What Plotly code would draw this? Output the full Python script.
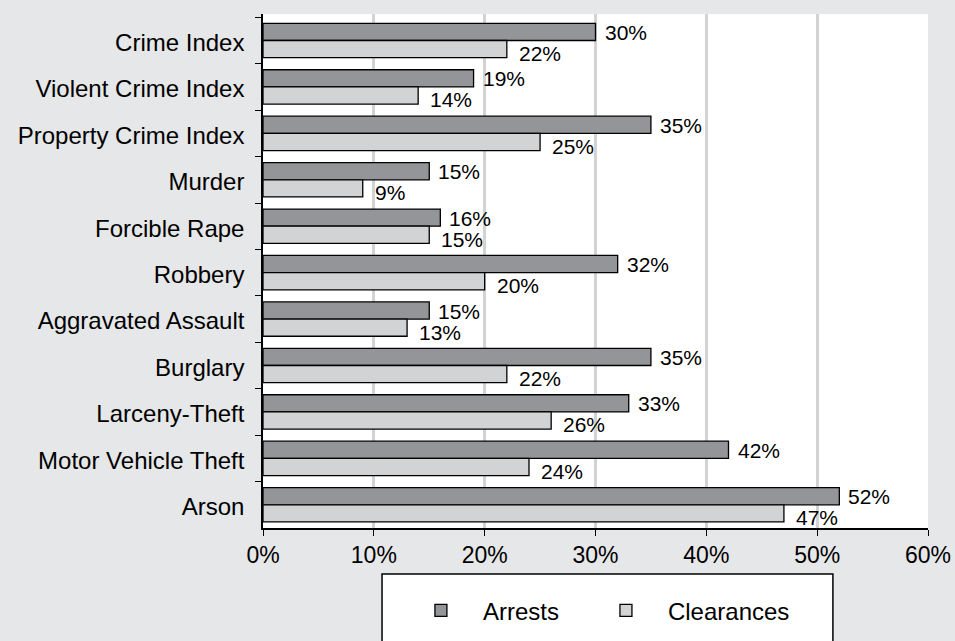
import plotly.graph_objects as go

categories = [
    "Crime Index", "Violent Crime Index", "Property Crime Index", "Murder",
    "Forcible Rape", "Robbery", "Aggravated Assault", "Burglary",
    "Larceny-Theft", "Motor Vehicle Theft", "Arson",
]
arrests = [30, 19, 35, 15, 16, 32, 15, 35, 33, 42, 52]
clearances = [22, 14, 25, 9, 15, 20, 13, 22, 26, 24, 47]
x_ticks = [0, 10, 20, 30, 40, 50, 60]

FONT = "Liberation Sans, Arial, Helvetica, sans-serif"
BG = "#e6e7e8"
NB = "\u00a0"

fig = go.Figure()
fig.add_trace(go.Bar(
    y=categories, x=arrests, name="Arrests" + NB * 3, orientation="h",
    marker=dict(color="#939598", line=dict(color="black", width=1.3)),
))
fig.add_trace(go.Bar(
    y=categories, x=clearances, name="Clearances", orientation="h",
    marker=dict(color="#d1d3d4", line=dict(color="black", width=1.3)),
))

# value labels just past the bar ends
for cat, a, c in zip(categories, arrests, clearances):
    fig.add_annotation(x=a, y=cat, text=f"{a}%", showarrow=False,
                       xanchor="left", xshift=7, yshift=8,
                       font=dict(size=21, color="black", family=FONT))
    fig.add_annotation(x=c, y=cat, text=f"{c}%", showarrow=False,
                       xanchor="left", xshift=10, yshift=-13,
                       font=dict(size=21, color="black", family=FONT))

# legend frame
fig.add_shape(type="rect", xref="paper", yref="paper",
              x0=0.179, x1=0.857, y0=-0.26, y1=-0.0897,
              fillcolor="white", line=dict(color="black", width=1.5),
              layer="below")

fig.update_layout(
    width=955, height=641, autosize=False,
    paper_bgcolor=BG, plot_bgcolor="white",
    margin=dict(l=263, r=27, t=14, b=113, autoexpand=False),
    barmode="group", bargap=0.26, bargroupgap=0,
    font=dict(family=FONT, color="black", size=22),
    showlegend=True,
    legend=dict(
        orientation="h", x=0.2044, y=-0.161, xanchor="left", yanchor="middle",
        bgcolor="rgba(0,0,0,0)", font=dict(size=24, family=FONT),
        itemwidth=74, traceorder="normal",
    ),
    xaxis=dict(
        range=[0, 60], tickvals=x_ticks,
        ticktext=[f"{v}%" for v in x_ticks],
        showgrid=True, gridcolor="#d1d3d4", gridwidth=2.5,
        showline=True, linecolor="black", linewidth=1.5,
        ticks="outside", ticklen=6, tickcolor="black", tickwidth=1.3,
        tickfont=dict(size=23, family=FONT), zeroline=False,
    ),
    yaxis=dict(
        autorange="reversed", showgrid=False,
        showline=True, linecolor="black", linewidth=1.5,
        ticks="outside", tickson="boundaries", ticklen=6,
        tickcolor="black", tickwidth=1.3,
        tickfont=dict(size=24, family=FONT), ticklabelstandoff=12,
        ticklabelshift=-2,
    ),
)

fig.write_html("out.html", config={"displayModeBar": False},
               post_script="document.body.style.margin='0';")
